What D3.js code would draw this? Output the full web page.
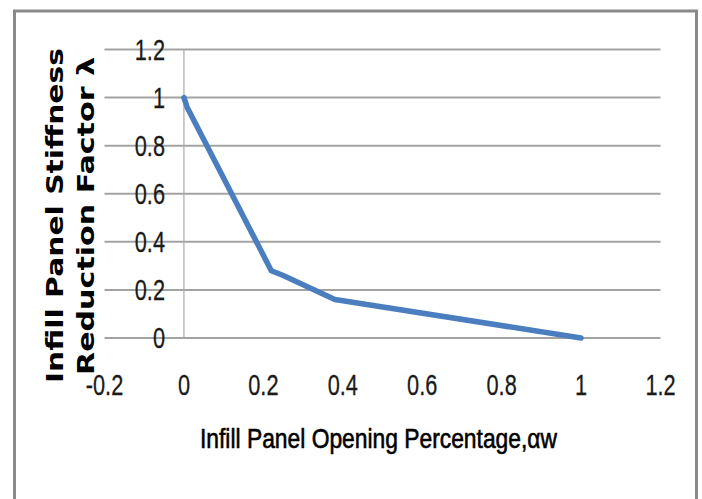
<!DOCTYPE html>
<html>
<head>
<meta charset="utf-8">
<script src="https://cdn.jsdelivr.net/npm/d3@7"></script>
<style>
  html, body { margin: 0; padding: 0; background: #fff; overflow: hidden; }
  svg { display: block; }
</style>
</head>
<body>
<svg id="chart" width="702" height="499"></svg>
<script>
// Opening percentage (αw) and the matching stiffness reduction factor (λ)
const openingRatio    = [0, 0.008, 0.22, 0.25, 0.38, 1];
const stiffnessFactor = [1, 0.96, 0.28, 0.26, 0.16, 0];

const xTicks = [-0.2, 0, 0.2, 0.4, 0.6, 0.8, 1, 1.2];
const yTicks = [0, 0.2, 0.4, 0.6, 0.8, 1, 1.2];

const xTitle = "Infill Panel Opening Percentage,αw";
const yTitleLines = ["Infill Panel Stiffness", "Reduction Factor λ"];

const svg = d3.select("#chart");

const x = d3.scaleLinear().domain([-0.2, 1.2]).range([104.5, 660.5]);
const y = d3.scaleLinear().domain([0, 1.2]).range([338, 49.5]);

// outer frame
svg.append("rect")
  .attr("x", 14.5).attr("y", 11)
  .attr("width", 682).attr("height", 520)
  .attr("fill", "#fff")
  .attr("stroke", "#8a8a8a")
  .attr("stroke-width", 3);

// horizontal gridlines (the 0 line doubles as the x axis)
svg.append("g").selectAll("line")
  .data(yTicks)
  .join("line")
  .attr("x1", x(-0.2)).attr("x2", x(1.2))
  .attr("y1", d => y(d)).attr("y2", d => y(d))
  .attr("stroke", "#a3a3a3")
  .attr("stroke-width", 2);

// vertical axis at x = 0
svg.append("line")
  .attr("x1", x(0)).attr("x2", x(0))
  .attr("y1", y(1.2)).attr("y2", y(0))
  .attr("stroke", "#a8a8a8")
  .attr("stroke-width", 1.2);

const tickFont = "'Liberation Sans', Arial, sans-serif";

// y tick labels
svg.append("g").selectAll("text")
  .data(yTicks)
  .join("text")
  .attr("transform", d => `translate(165,${y(d) + 10}) scale(0.75,1)`)
  .attr("text-anchor", "end")
  .attr("font-family", tickFont)
  .attr("font-size", 29)
  .attr("fill", "#1a1a1a")
  .attr("stroke", "#1a1a1a")
  .attr("stroke-width", 0.3)
  .text(d => String(d));

// x tick labels
svg.append("g").selectAll("text")
  .data(xTicks)
  .join("text")
  .attr("transform", d => `translate(${x(d)},395) scale(0.75,1)`)
  .attr("text-anchor", "middle")
  .attr("font-family", tickFont)
  .attr("font-size", 29)
  .attr("fill", "#1a1a1a")
  .attr("stroke", "#1a1a1a")
  .attr("stroke-width", 0.3)
  .text(d => String(d));

// data line
const line = d3.line()
  .x((d, i) => x(openingRatio[i]))
  .y(d => y(d));

svg.append("path")
  .datum(stiffnessFactor)
  .attr("d", line)
  .attr("fill", "none")
  .attr("stroke", "#4a7ebf")
  .attr("stroke-width", 5.5)
  .attr("stroke-linejoin", "round")
  .attr("stroke-linecap", "round");

// x axis title
svg.append("text")
  .attr("x", 378.5).attr("y", 448)
  .attr("text-anchor", "middle")
  .attr("font-family", tickFont)
  .attr("font-size", 27.5)
  .attr("fill", "#000")
  .attr("stroke", "#000")
  .attr("stroke-width", 0.6)
  .attr("textLength", 357)
  .attr("lengthAdjust", "spacingAndGlyphs")
  .text(xTitle);

// y axis title, two rotated lines
const yTitlePos = [
  { cx: 63,   cy: 215.5, len: 335 },
  { cx: 93.5, cy: 216,   len: 318 }
];
svg.append("g").selectAll("text")
  .data(yTitleLines)
  .join("text")
  .attr("transform", (d, i) => `translate(${yTitlePos[i].cx},${yTitlePos[i].cy}) rotate(-90)`)
  .attr("text-anchor", "middle")
  .attr("font-family", "'DejaVu Sans', Verdana, sans-serif")
  .attr("font-weight", "bold")
  .attr("font-size", 23)
  .attr("fill", "#000")
  .attr("textLength", (d, i) => yTitlePos[i].len)
  .attr("lengthAdjust", "spacingAndGlyphs")
  .text(d => d);
</script>
</body>
</html>
